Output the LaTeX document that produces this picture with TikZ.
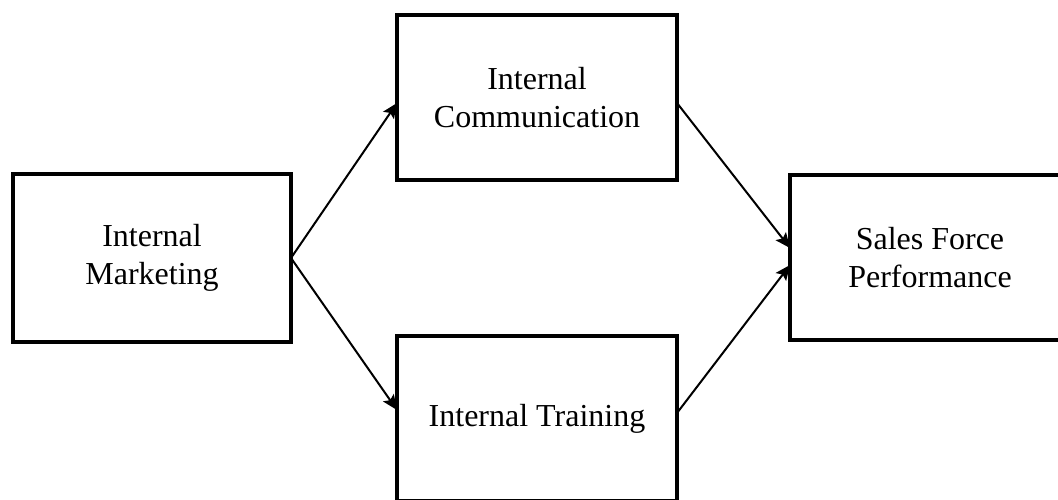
\documentclass[tikz,border=0pt]{standalone}
\usepackage{fontspec}
\setmainfont{Liberation Serif}
\usetikzlibrary{arrows.meta,calc}

\tikzset{
  box/.style={draw=black, line width=2.2pt, rectangle, outer sep=0pt, inner sep=0pt,
    minimum width=140pt, minimum height=82.5pt, align=center,
    font=\fontsize{16pt}{19pt}\selectfont},
  link/.style={draw=black, line width=1pt, -{Stealth[length=7.5pt,width=6.5pt,inset=1.5pt]}},
}

\begin{document}
\begin{tikzpicture}[x=0.5pt, y=-0.5pt]
  \useasboundingbox (0,0) rectangle (1058,499);
  \clip (0,0) rectangle (1058,499);

  % construct boxes
  \node[box, minimum width=139pt, minimum height=84pt] (im) at (152,258) {Internal\\Marketing};
  \node[box] (ic) at (537,97.5)  {Internal\\Communication};
  \node[box] (it) at (537,418.5) {Internal Training};
  \node[box] (sf) at (930,257.5) {Sales Force\\Performance};

  % paths between constructs
  \draw[link] (im.east) -- ($(ic.west)+(0,5.5)$);
  \draw[link] (im.east) -- ($(it.west)+(0,-8.5)$);
  \draw[link] ($(ic.east)+(0,5.5)$) -- ($(sf.west)+(0,-9.5)$);
  \draw[link] ($(it.east)+(0,-5.5)$) -- ($(sf.west)+(0,7.5)$);
\end{tikzpicture}
\end{document}
